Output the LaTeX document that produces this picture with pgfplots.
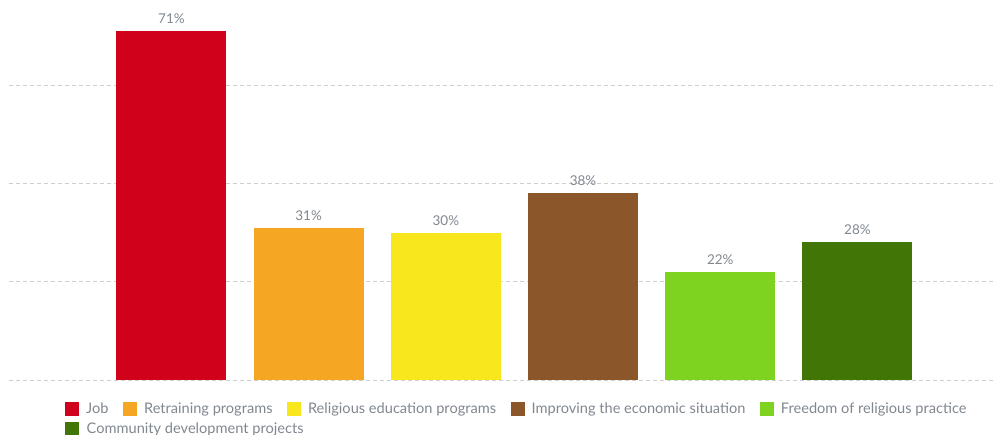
\documentclass[border=0pt]{standalone}
\usepackage{pgfplots}
\pgfplotsset{compat=1.18}
\usepackage{fontspec}
\setmainfont{Lato}
\definecolor{c1}{HTML}{D0021B}
\definecolor{c2}{HTML}{F5A623}
\definecolor{c3}{HTML}{F8E71C}
\definecolor{c4}{HTML}{8B572A}
\definecolor{c5}{HTML}{7ED321}
\definecolor{c6}{HTML}{417505}
\definecolor{txtgray}{HTML}{80878F}
\definecolor{gridgray}{HTML}{CFCFCF}
\pgfplotsset{
  mybar/.style={fill=#1, draw=none, bar shift=0pt,
    legend image code/.code={\fill[#1] (0pt,-7pt) rectangle (14pt,7pt);}},
}
\begin{document}
\begin{tikzpicture}
\begin{axis}[
  at={(9pt,54pt)}, anchor=south west,
  scale only axis, width=984pt, height=380pt,
  xmin=-1.184, xmax=5.988, ymin=0, ymax=77.3,
  axis line style={draw=none},
  xtick=\empty, ytick={0,20,40,60}, yticklabels={},
  major tick length=0pt,
  ymajorgrids, grid style={gridgray, line width=0.9pt, dash pattern=on 4pt off 3pt},
  ybar, bar width=110pt,
  clip=false,
  point meta=y,
  nodes near coords={\pgfmathprintnumber[assume math mode=true]{\pgfplotspointmeta}\%},
  nodes near coords style={anchor=base, inner sep=0pt, yshift=7.5pt, text=txtgray, font=\fontsize{13.5}{15}\selectfont},
  legend columns=5,
  legend style={draw=none, fill=none, at={(0.0539,-0.0526)}, anchor=north west,
    font=\fontsize{14.6}{16}\selectfont, text=txtgray,
    nodes={inner sep=0pt},
    /tikz/every even column/.append style={column sep=14.5pt},
    /tikz/every odd column/.append style={column sep=7pt},
    row sep=6pt},
  legend cell align=left,
]
\addplot[mybar=c1] coordinates {(0,71)}; \addlegendentry{Job}
\addplot[mybar=c2] coordinates {(1,31)}; \addlegendentry{Retraining programs}
\addplot[mybar=c3] coordinates {(2,30)}; \addlegendentry{Religious education programs}
\addplot[mybar=c4] coordinates {(3,38)}; \addlegendentry{Improving the economic situation}
\addplot[mybar=c5] coordinates {(4,22)}; \addlegendentry{Freedom of religious practice}
\addplot[mybar=c6] coordinates {(5,28)}; \addlegendentry{\makebox[0pt][l]{Community development projects}}
\end{axis}
\pgfresetboundingbox
\path[use as bounding box] (0,0) rectangle (993pt,434pt);
\end{tikzpicture}
\end{document}
